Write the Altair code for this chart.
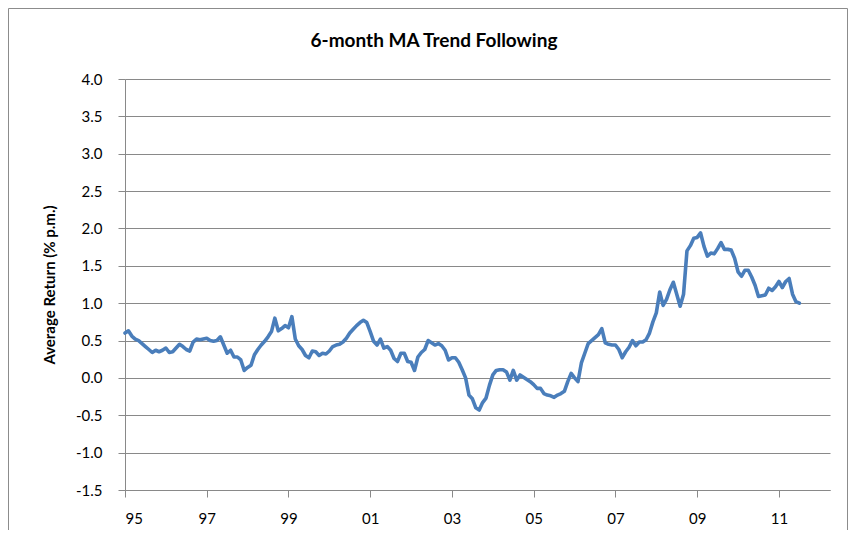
import altair as alt
import pandas as pd

# Monthly values, Jan 1995 onward (% p.m.)
values = [
    0.60, 0.63, 0.56, 0.52, 0.50, 0.46, 0.42, 0.38, 0.34, 0.37,
    0.35, 0.37, 0.40, 0.34, 0.35, 0.40, 0.45, 0.42, 0.38, 0.36,
    0.48, 0.52, 0.51, 0.52, 0.53, 0.50, 0.49, 0.50, 0.55, 0.44,
    0.33, 0.37, 0.28, 0.28, 0.24, 0.10, 0.14, 0.17, 0.31, 0.38,
    0.44, 0.49, 0.55, 0.62, 0.80, 0.63, 0.66, 0.70, 0.67, 0.82,
    0.52, 0.43, 0.38, 0.30, 0.27, 0.36, 0.35, 0.30, 0.33, 0.32,
    0.36, 0.42, 0.44, 0.45, 0.48, 0.53, 0.60, 0.65, 0.70, 0.74,
    0.77, 0.74, 0.62, 0.49, 0.44, 0.52, 0.40, 0.42, 0.37, 0.26,
    0.22, 0.33, 0.33, 0.22, 0.21, 0.10, 0.28, 0.34, 0.38, 0.50,
    0.47, 0.44, 0.46, 0.43, 0.37, 0.24, 0.27, 0.27, 0.21, 0.11,
    0.00, -0.23, -0.28, -0.40, -0.43, -0.33, -0.27, -0.10, 0.04, 0.10,
    0.11, 0.11, 0.08, -0.03, 0.10, -0.03, 0.04, 0.01, -0.02, -0.05,
    -0.09, -0.14, -0.14, -0.21, -0.23, -0.24, -0.26, -0.23, -0.21, -0.18,
    -0.05, 0.06, 0.00, -0.05, 0.20, 0.33, 0.46, 0.50, 0.54, 0.58,
    0.66, 0.47, 0.45, 0.44, 0.44, 0.38, 0.27, 0.35, 0.41, 0.50,
    0.43, 0.48, 0.48, 0.51, 0.60, 0.75, 0.87, 1.15, 0.97, 1.05,
    1.18, 1.28, 1.12, 0.96, 1.12, 1.70, 1.77, 1.87, 1.88, 1.94,
    1.76, 1.63, 1.67, 1.66, 1.73, 1.81, 1.72, 1.72, 1.71, 1.60,
    1.42, 1.36, 1.44, 1.44, 1.35, 1.24, 1.09, 1.10, 1.11, 1.20,
    1.17, 1.22, 1.29, 1.21, 1.29, 1.33, 1.12, 1.02, 1.00,
]
x_tick_labels = ["95", "97", "99", "01", "03", "05", "07", "09", "11"]
y_ticks = [-1.5, -1.0, -0.5, 0.0, 0.5, 1.0, 1.5, 2.0, 2.5, 3.0, 3.5, 4.0]
chart_title = ["6-month MA Trend Following"]

df = pd.DataFrame({"month": list(range(len(values))), "ret": values})

label_expr = "[" + ",".join(f"'{t}'" for t in x_tick_labels) + "][datum.value / 24]"
FONT = "Lato"
GRID = "#898989"

line = (
    alt.Chart(df)
    .mark_line(color="#4A7EBB", strokeWidth=3.6, strokeJoin="round", strokeCap="round")
    .encode(
        x=alt.X(
            "month:Q",
            scale=alt.Scale(domain=[0, 207], nice=False, zero=False),
            axis=alt.Axis(
                values=[i * 24 for i in range(len(x_tick_labels))],
                labelExpr=label_expr,
                grid=False,
                title=None,
                domainColor=GRID,
                tickColor=GRID,
                tickSize=7,
                labelPadding=14,
                labelFontSize=15,
                labelFont=FONT,
                labelColor="#000000",
            ),
        ),
        y=alt.Y(
            "ret:Q",
            scale=alt.Scale(domain=[-1.5, 4.0], nice=False, zero=False),
            axis=alt.Axis(
                values=y_ticks,
                labelExpr="replace(format(datum.value, '.1f'), '\u2212', '-')",
                grid=True,
                gridColor=GRID,
                gridWidth=1,
                domainColor=GRID,
                tickColor=GRID,
                tickSize=7,
                labelPadding=16,
                labelFontSize=15,
                labelFont=FONT,
                labelColor="#000000",
                title="Average Return (% p.m.)",
                titleFont=FONT,
                titleFontSize=15,
                titleFontWeight="bold",
                titleColor="#000000",
                titleX=-68,
            ),
        ),
    )
)

# Chart-area border (decoration, like the spreadsheet chart frame)
frame = (
    alt.Chart(pd.DataFrame({"k": [0]}))
    .mark_rect(fillOpacity=0, stroke="#8c8c8c", strokeWidth=1, clip=False)
    .encode(
        x=alt.value(-116.5),
        x2=alt.value(722.5),
        y=alt.value(-70.5),
        y2=alt.value(480),
    )
)

title = (
    alt.Chart(pd.DataFrame({"t": chart_title}))
    .mark_text(font=FONT, fontSize=19, fontWeight="bold", color="#000000",
               align="center", baseline="middle")
    .encode(text="t:N", x=alt.value(309), y=alt.value(-38))
)

chart = (
    alt.layer(frame, line, title)
    .properties(
        width=705,
        height=411,
        autosize=alt.AutoSizeParams(type="none"),
        padding={"left": 117, "top": 71, "right": 18, "bottom": 40},
    )
    .configure_view(stroke=None)
)

chart.save("out.html", embed_options={"renderer": "svg", "actions": False})
